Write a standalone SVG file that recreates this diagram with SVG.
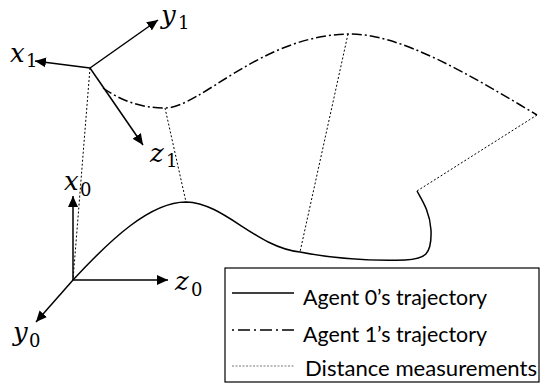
<svg xmlns="http://www.w3.org/2000/svg" width="547" height="386" viewBox="0 0 547 386">
<defs>
<marker id="ah" markerUnits="userSpaceOnUse" markerWidth="12" markerHeight="10" refX="11" refY="5" orient="auto">
<path d="M0,0 L11,5 L0,10 Z" fill="#000"/>
</marker>
<style>
.axis{stroke:#000;stroke-width:1.5;fill:none;marker-end:url(#ah)}
.traj0{stroke:#000;stroke-width:1.5;fill:none}
.traj1{stroke:#000;stroke-width:1.5;fill:none;stroke-dasharray:10 3 2 3}
.dist{stroke:#000;stroke-width:1;fill:none;stroke-dasharray:2 2}
.dleg{stroke:#777;stroke-width:1;fill:none;stroke-dasharray:2 1.5}
.m{font-family:"DejaVu Serif","Liberation Serif",serif;font-style:italic;font-size:26px;fill:#000}
.s{font-family:"DejaVu Serif","Liberation Serif",serif;font-style:normal;font-size:18px;fill:#000}
.leg{font-family:Lato,"Open Sans","Liberation Sans",sans-serif;font-size:22px;fill:#000}
</style>
</defs>
<g id="connectors">
<path class="traj1" d="M103,88 C120,100 140,108 165,108 C200,108 260,36 348,34 C400,33 470,75 537,115"/>
<path class="traj0" d="M73,280 C110,240 150,202 186,202 C225,203 255,247 300,252 C330,258 370,261 405,260 C425,259 432,255 431,230 C430,212 422,200 417,191"/>
<line class="dist" x1="90" y1="68" x2="73" y2="280"/>
<line class="dist" x1="165" y1="108" x2="186" y2="202"/>
<line class="dist" x1="348" y1="34" x2="300" y2="252"/>
<line class="dist" x1="537" y1="115" x2="417" y2="191"/>
</g>
<g id="agent1-frame">
<line class="axis" x1="90" y1="68" x2="35" y2="61"/>
<line class="axis" x1="90" y1="68" x2="158" y2="20"/>
<line class="axis" x1="90" y1="68" x2="143" y2="145"/>
<text class="m" x="10" y="62">x<tspan class="s" x="26" y="67">1</tspan></text>
<text class="m" x="161" y="24">y<tspan class="s" x="178" y="29">1</tspan></text>
<text class="m" x="150" y="162">z<tspan class="s" x="166" y="167">1</tspan></text>
</g>
<g id="agent0-frame">
<line class="axis" x1="73" y1="280" x2="73" y2="196"/>
<line class="axis" x1="73" y1="280" x2="168" y2="280"/>
<line class="axis" x1="73" y1="280" x2="36" y2="322"/>
<text class="m" x="64" y="190">x<tspan class="s" x="80" y="196">0</tspan></text>
<text class="m" x="175" y="290">z<tspan class="s" x="191" y="296">0</tspan></text>
<text class="m" x="13" y="341">y<tspan class="s" x="29" y="347">0</tspan></text>
</g>
<g id="legend">
<rect x="225" y="268" width="314" height="114" fill="#fff" stroke="#000" stroke-width="1.2"/>
<line class="traj0" x1="232" y1="293" x2="294" y2="293"/>
<line class="traj1" x1="232" y1="330" x2="294" y2="330" style="stroke-dasharray:2 4 12 4"/>
<line class="dleg" x1="232" y1="366" x2="294" y2="366"/>
<text class="leg" x="303" y="305" textLength="184" lengthAdjust="spacingAndGlyphs">Agent 0’s trajectory</text>
<text class="leg" x="303" y="342" textLength="184" lengthAdjust="spacingAndGlyphs">Agent 1’s trajectory</text>
<text class="leg" x="305" y="376" textLength="232" lengthAdjust="spacingAndGlyphs">Distance measurements</text>
</g>
</svg>
